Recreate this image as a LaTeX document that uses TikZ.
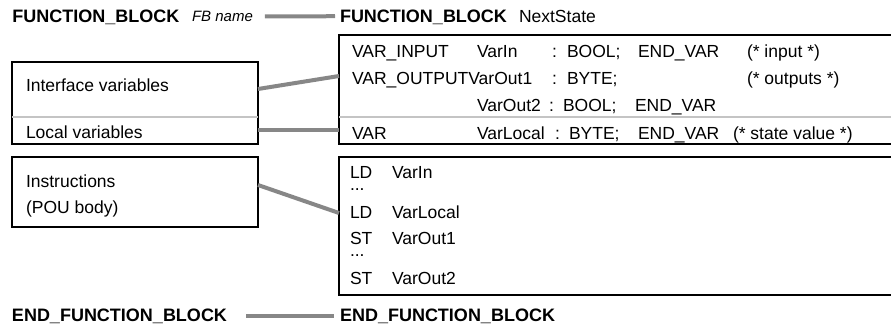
\documentclass[tikz,border=0pt]{standalone}
\usepackage{fontspec}
\setmainfont{Liberation Sans}
\definecolor{linkgray}{RGB}{135,135,135}
\definecolor{rulegray}{RGB}{196,196,196}
\begin{document}
\begin{tikzpicture}[x=1pt,y=-1pt,
  every node/.style={inner sep=0pt, outer sep=0pt},
  txt/.style={anchor=base west, font=\fontsize{17.5}{20}\selectfont},
  kw/.style={anchor=base west, font=\fontsize{18}{20}\selectfont\bfseries,
             text height=13pt, text depth=0pt},
  kwend/.style={kw, text height=10pt},
  frame/.style={draw=black, line width=2pt, anchor=north west},
  conn/.style={draw=linkgray, line width=4pt},
  divider/.style={draw=rulegray, line width=2pt}]
\useasboundingbox (0,0) rectangle (891,327);

% header line
\node[kw] (fbL) at (12.5,22.7) {FUNCTION\_BLOCK};
\node[anchor=base west, font=\fontsize{15}{17}\selectfont\itshape,
      text height=9pt, text depth=0pt] (fbname) at (192,21) {FB name};
\node[kw] (fbR) at (340,22.7) {FUNCTION\_BLOCK};
\node[txt] (fbid) at (519,22.7) {NextState};
\draw[conn, shorten <=12pt, shorten >=5pt] (fbname.east) -- (fbR.west);

% left column: explanation boxes
\node[frame, minimum width=246pt, minimum height=82pt] (ifbox) at (12,62) {};
\node[frame, minimum width=246pt, minimum height=70pt] (instr) at (12,157) {};
\draw[divider] ([yshift=-55pt]ifbox.north west) -- ([yshift=-55pt]ifbox.north east);
\node[txt] (lblif) at (26,91.5) {Interface variables};
\node[txt] (lbllocal) at (26,138) {Local variables};
\node[txt] (lblinstr) at (26,187) {Instructions};
\node[txt] (lblpou) at (26,213) {(POU body)};

% right column: declaration part
\node[frame, minimum width=560pt, minimum height=109pt] (decl) at (339,35) {};
\draw[divider] ([yshift=-82pt]decl.north west) -- ([yshift=-82pt]decl.north east);
\node[txt] (d1a) at (352,57) {VAR\_INPUT};
\node[txt] (d1b) at (477,57) {VarIn};
\node[txt] (d1c) at (552,57) {:};
\node[txt] (d1t) at (567,57) {BOOL;};
\node[txt] (d1d) at (638,57) {END\_VAR};
\node[txt] (d1e) at (747,57) {(* input *)};
\node[txt] (d2a) at (352,84) {VAR\_OUTPUTVarOut1};
\node[txt] (d2c) at (552,84) {:};
\node[txt] (d2t) at (567,84) {BYTE;};
\node[txt] (d2e) at (747,84) {(* outputs *)};
\node[txt] (d3b) at (477,111) {VarOut2};
\node[txt] (d3c) at (549,111) {:};
\node[txt] (d3t) at (563,111) {BOOL;};
\node[txt] (d3d) at (635,111) {END\_VAR};
\node[txt] (d4a) at (352,139) {VAR};
\node[txt] (d4b) at (477,139) {VarLocal};
\node[txt] (d4c) at (555,139) {:};
\node[txt] (d4t) at (569,139) {BYTE;};
\node[txt] (d4d) at (638,139) {END\_VAR};
\node[txt] (d4e) at (733,139) {(* state value *)};

% right column: instruction part
\node[frame, minimum width=560pt, minimum height=138pt] (body) at (339,157) {};
\node[txt] (i1a) at (350,178) {LD};
\node[txt] (i1b) at (392,178) {VarIn};
\node[txt] (i2)  at (350,190) {...};
\node[txt] (i3a) at (350,218) {LD};
\node[txt] (i3b) at (392,218) {VarLocal};
\node[txt] (i4a) at (350,244) {ST};
\node[txt] (i4b) at (392,244) {VarOut1};
\node[txt] (i5)  at (350,256) {...};
\node[txt] (i6a) at (350,284) {ST};
\node[txt] (i6b) at (392,284) {VarOut2};

% links between explanation and code
\draw[conn] ([yshift=-27pt]ifbox.north east) -- ([yshift=-41pt]decl.north west);
\draw[conn] ([yshift=14pt]ifbox.south east) -- ([yshift=14pt]decl.south west);
\draw[conn] ([yshift=-28pt]instr.north east) -- ([yshift=-56pt]body.north west);

% footer line
\node[kwend] (endL) at (12,321) {END\_FUNCTION\_BLOCK};
\node[kwend] (endR) at (340,321) {END\_FUNCTION\_BLOCK};
\draw[conn, shorten <=19pt, shorten >=6pt] (endL.east) -- (endR.west);
\end{tikzpicture}
\end{document}
